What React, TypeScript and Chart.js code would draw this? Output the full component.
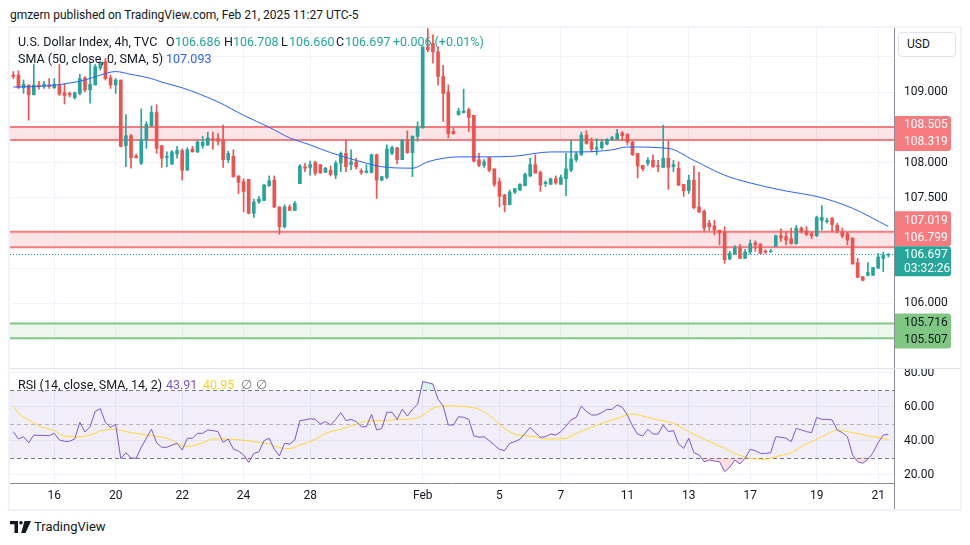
import React, { useEffect, useRef } from 'react';
import { Chart, registerables } from 'chart.js';

Chart.register(...registerables);

const FONT = 'Roboto, "Liberation Sans", Arial, sans-serif';
const TEXT = '#131722';
const UP = '#26a69a';
const DOWN = '#ef5350';
const GRID = '#f0f3fa';
const AXIS_LINE = '#8a8d96';

// ---------- data (4h candles, index 0 .. 171) ----------
const OPEN = [
  109.24, 109.24, 109.06, 109.10, 108.96, 109.10, 109.08, 109.10, 109.06, 109.10,
  108.99, 108.98, 108.92, 108.98, 109.20, 109.03, 109.10, 109.34, 109.43, 109.20,
  109.10, 109.17, 108.24, 108.38, 108.09, 107.99, 108.32, 108.52, 108.71, 108.24,
  108.07, 107.98, 108.12, 108.17, 107.89, 108.19, 108.15, 108.24, 108.25, 108.34,
  108.34, 108.32, 108.04, 108.09, 107.81, 107.73, 107.76, 107.28, 107.44, 107.46,
  107.67, 107.75, 107.37, 107.09, 107.37, 107.32, 107.70, 107.94, 107.93, 108.00,
  107.97, 107.86, 107.89, 107.82, 107.99, 108.13, 107.97, 108.01, 107.88, 107.86,
  107.86, 108.11, 107.75, 107.79, 108.13, 108.21, 108.04, 108.32, 108.14, 108.37,
  108.49, 109.64, 109.69, 109.57, 109.22, 109.00, 108.44, 108.68, 108.71, 108.75,
  108.67, 108.04, 107.96, 108.07, 107.91, 107.73, 107.54, 107.40, 107.58, 107.61,
  107.67, 107.81, 107.97, 107.86, 107.70, 107.69, 107.77, 107.69, 107.77, 107.89,
  108.04, 108.11, 108.39, 108.29, 108.19, 108.21, 108.26, 108.33, 108.33, 108.42,
  108.40, 108.29, 108.13, 107.96, 107.99, 108.03, 107.95, 107.93, 108.06, 107.94,
  107.92, 107.69, 107.60, 107.75, 107.37, 107.31, 107.14, 107.10, 107.04, 107.01,
  106.63, 106.70, 106.79, 106.64, 106.73, 106.86, 106.84, 106.745, 106.73, 106.81,
  106.96, 106.95, 106.92, 106.85, 107.07, 107.03, 106.99, 106.96, 107.18, 107.16,
  107.21, 107.11, 107.01, 106.99, 106.93, 106.58, 106.38, 106.40, 106.40, 106.50,
  106.64, 106.686,
];
const HIGH = [
  109.29, 109.30, 109.17, 109.10, 109.39, 109.15, 109.15, 109.19, 109.19, 109.39,
  109.11, 109.00, 109.00, 109.25, 109.22, 109.42, 109.39, 109.43, 109.48, 109.24,
  109.19, 109.17, 108.68, 108.40, 108.12, 108.76, 108.58, 108.80, 108.82, 108.24,
  108.15, 108.17, 108.23, 108.19, 108.21, 108.23, 108.31, 108.37, 108.43, 108.43,
  108.41, 108.53, 108.16, 108.18, 107.81, 107.77, 107.76, 107.48, 107.52, 107.69,
  107.81, 107.81, 107.37, 107.40, 107.40, 107.45, 107.97, 107.99, 108.02, 108.02,
  107.97, 107.93, 107.95, 108.02, 108.15, 108.32, 108.18, 108.06, 107.91, 107.97,
  108.12, 108.12, 107.80, 108.25, 108.23, 108.21, 108.33, 108.45, 108.38, 108.58,
  109.64, 109.90, 109.81, 109.64, 109.38, 109.10, 108.49, 108.77, 109.04, 108.77,
  108.67, 108.13, 108.04, 108.07, 107.91, 107.78, 107.55, 107.61, 107.63, 107.70,
  107.85, 108.06, 108.11, 107.88, 107.74, 107.78, 107.81, 107.82, 108.13, 108.32,
  108.15, 108.43, 108.45, 108.35, 108.34, 108.33, 108.34, 108.37, 108.47, 108.44,
  108.41, 108.30, 108.13, 107.96, 108.07, 108.11, 108.03, 108.53, 108.30, 108.03,
  108.01, 107.69, 107.82, 107.95, 107.86, 107.33, 107.18, 107.18, 107.04, 107.09,
  106.74, 106.82, 106.84, 106.77, 106.90, 106.89, 106.85, 106.76, 106.77, 106.97,
  107.06, 107.02, 107.07, 107.11, 107.09, 107.09, 107.01, 107.24, 107.39, 107.21,
  107.22, 107.14, 107.07, 107.01, 106.93, 106.64, 106.38, 106.58, 106.51, 106.71,
  106.73, 106.708,
];
const LOW = [
  109.19, 109.05, 108.98, 108.60, 108.96, 109.04, 109.05, 109.05, 109.05, 108.95,
  108.83, 108.93, 108.90, 108.96, 109.00, 108.84, 109.10, 109.31, 109.17, 109.05,
  108.98, 108.22, 107.94, 107.92, 108.06, 107.97, 108.20, 108.51, 108.13, 107.93,
  107.94, 107.97, 108.06, 107.75, 107.89, 108.15, 108.14, 108.20, 108.24, 108.19,
  108.25, 107.93, 108.00, 107.79, 107.56, 107.30, 107.27, 107.22, 107.42, 107.46,
  107.66, 107.36, 106.98, 107.07, 107.32, 107.32, 107.70, 107.87, 107.82, 107.82,
  107.85, 107.86, 107.81, 107.77, 107.87, 107.87, 107.90, 107.91, 107.83, 107.85,
  107.85, 107.49, 107.74, 107.77, 108.11, 107.98, 108.04, 108.13, 107.80, 108.30,
  108.49, 109.57, 109.41, 109.10, 108.58, 108.35, 108.40, 108.67, 108.70, 108.44,
  108.01, 107.94, 107.93, 107.87, 107.66, 107.37, 107.30, 107.40, 107.56, 107.60,
  107.67, 107.80, 107.85, 107.59, 107.66, 107.69, 107.69, 107.69, 107.53, 107.87,
  108.01, 108.10, 108.26, 108.15, 108.11, 108.19, 108.25, 108.31, 108.33, 108.32,
  108.25, 108.10, 107.78, 107.88, 107.96, 107.93, 107.87, 107.93, 107.62, 107.87,
  107.67, 107.52, 107.56, 107.34, 107.29, 107.03, 107.04, 106.97, 106.83, 106.57,
  106.62, 106.70, 106.64, 106.64, 106.70, 106.74, 106.71, 106.71, 106.73, 106.81,
  106.88, 106.83, 106.84, 106.84, 107.00, 106.96, 106.92, 106.95, 107.04, 107.14,
  107.02, 107.00, 106.93, 106.83, 106.56, 106.37, 106.32, 106.39, 106.40, 106.50,
  106.45, 106.660,
];
const CLOSE = [
  109.22, 109.06, 109.11, 108.96, 109.10, 109.08, 109.11, 109.08, 109.11, 108.97,
  108.95, 108.96, 108.99, 109.19, 109.03, 109.11, 109.36, 109.42, 109.19, 109.10,
  109.17, 108.23, 108.38, 108.07, 108.07, 108.33, 108.54, 108.71, 108.20, 108.06,
  108.08, 108.15, 108.17, 107.89, 108.18, 108.15, 108.29, 108.29, 108.35, 108.32,
  108.30, 108.04, 108.13, 107.80, 107.72, 107.59, 107.28, 107.44, 107.48, 107.68,
  107.74, 107.37, 107.09, 107.37, 107.32, 107.42, 107.95, 107.92, 107.97, 107.85,
  107.85, 107.92, 107.83, 107.99, 108.13, 107.94, 108.01, 107.94, 107.86, 107.88,
  108.11, 107.75, 107.80, 108.19, 108.21, 108.04, 108.32, 108.14, 108.37, 108.51,
  109.64, 109.60, 109.57, 109.22, 108.98, 108.41, 108.41, 108.73, 108.73, 108.64,
  108.02, 107.96, 108.01, 107.89, 107.69, 107.52, 107.40, 107.58, 107.63, 107.69,
  107.83, 107.97, 107.85, 107.68, 107.72, 107.77, 107.71, 107.79, 107.91, 108.05,
  108.12, 108.39, 108.27, 108.19, 108.21, 108.29, 108.33, 108.35, 108.41, 108.38,
  108.29, 108.11, 107.95, 107.91, 108.03, 107.94, 107.94, 108.06, 107.93, 107.97,
  107.68, 107.60, 107.75, 107.36, 107.30, 107.07, 107.09, 107.04, 107.00, 106.62,
  106.71, 106.79, 106.64, 106.73, 106.85, 106.83, 106.71, 106.73, 106.74, 106.96,
  106.93, 106.90, 106.85, 107.07, 107.02, 106.98, 106.96, 107.22, 107.22, 107.17,
  107.12, 107.03, 106.96, 106.90, 106.56, 106.37, 106.33, 106.44, 106.51, 106.66,
  106.691, 106.697,
];

// SMA (50) read at candle indices
const SMA_IDX = [0, 7, 14, 17, 20, 23, 27, 29, 33, 40, 45, 50, 54, 58, 62, 69, 72, 78, 81, 84, 87, 92, 98, 105, 111, 117, 120, 128, 133, 139, 144, 150, 158, 164, 171];
const SMA_VAL = [109.07, 109.09, 109.17, 109.24, 109.29, 109.25, 109.19, 109.14, 109.06, 108.86, 108.67, 108.50, 108.35, 108.25, 108.14, 107.99, 107.94, 107.92, 108.01, 108.06, 108.08, 108.08, 108.09, 108.15, 108.15, 108.18, 108.22, 108.20, 108.03, 107.82, 107.71, 107.61, 107.50, 107.35, 107.093];

// RSI (14) per candle
const RSI = [
  45.5, 41.2, 42.5, 39.0, 43.5, 43.3, 43.3, 43.1, 44.5, 40.6,
  39.8, 39.8, 41.2, 51.0, 45.3, 48.4, 57.4, 59.0, 50.8, 48.0,
  49.8, 29.6, 33.1, 30.0, 29.8, 36.3, 41.6, 46.9, 39.0, 36.3,
  36.3, 37.6, 38.6, 34.7, 41.6, 41.6, 44.5, 44.5, 46.5, 46.1,
  45.5, 39.2, 41.2, 35.3, 34.1, 31.8, 27.3, 32.7, 33.7, 40.2,
  41.6, 35.1, 31.2, 38.6, 38.2, 40.6, 52.0, 52.4, 53.1, 52.7,
  50.0, 51.4, 49.4, 52.7, 56.7, 52.0, 52.7, 51.4, 48.4, 48.4,
  55.7, 46.5, 47.4, 56.9, 56.9, 52.7, 58.6, 54.7, 58.6, 61.6,
  74.9, 74.3, 73.5, 64.5, 60.6, 49.4, 49.4, 54.3, 53.9, 52.7,
  43.0, 42.2, 42.5, 40.2, 37.6, 35.1, 34.3, 38.6, 39.6, 41.0,
  44.5, 48.0, 44.9, 42.2, 42.5, 44.1, 43.5, 45.5, 48.8, 52.4,
  53.9, 60.6, 57.3, 55.3, 55.3, 56.7, 58.6, 58.6, 61.2, 59.8,
  55.3, 48.8, 44.1, 42.9, 46.9, 44.1, 44.1, 49.4, 45.5, 46.1,
  38.2, 35.7, 41.6, 33.1, 31.8, 27.8, 28.8, 28.2, 27.8, 22.0,
  24.5, 28.8, 26.5, 29.8, 35.1, 34.3, 32.7, 32.7, 33.1, 42.5,
  42.2, 41.6, 39.6, 47.4, 46.5, 45.5, 44.9, 53.9, 52.7, 52.7,
  52.4, 46.5, 44.9, 42.5, 31.8, 27.8, 26.9, 29.2, 33.1, 39.0,
  43.5, 43.91,
];
// RSI-based MA (SMA 14) read at candle indices
const RSI_MA_IDX = [0, 1, 3, 5, 8, 10, 13, 15, 17, 20, 22, 25, 27, 30, 34, 37, 39, 43, 47, 50, 52, 54, 56, 59, 61, 64, 67, 69, 72, 74, 79, 82, 84, 89, 92, 96, 98, 102, 104, 108, 110, 113, 115, 118, 121, 123, 126, 129, 132, 135, 139, 141, 144, 147, 149, 152, 154, 157, 159, 161, 164, 168, 171];
const RSI_MA_VAL = [60.6, 56.3, 52.4, 48.8, 46.1, 42.9, 42.5, 43.5, 45.9, 46.9, 45.5, 44.1, 43.1, 41.6, 36.7, 39.0, 41.2, 41.0, 39.6, 38.2, 36.1, 35.5, 37.6, 41.0, 44.5, 46.9, 49.8, 51.8, 52.0, 52.4, 53.7, 59.2, 60.6, 60.0, 57.3, 47.4, 44.1, 42.5, 41.2, 41.6, 44.5, 48.0, 50.4, 53.3, 55.9, 54.7, 52.4, 50.4, 45.5, 41.0, 35.7, 32.7, 29.8, 29.2, 30.8, 33.1, 36.7, 41.0, 44.0, 46.5, 44.9, 42.5, 40.95];

// time axis
const DAY_IDX = [8, 20, 33, 45, 58, 80, 95, 107, 120, 132, 144, 157, 169];
const DAY_LABELS = ['16', '20', '22', '24', '28', 'Feb', '5', '7', '11', '13', '17', '19', '21'];

// price axis
const PRICE_TICKS = [105.5, 106, 106.5, 107, 107.5, 108, 108.5, 109, 109.5];
const PRICE_TICKS_SHOWN = [106, 107.5, 108, 109];
const RSI_TICKS = [20, 40, 60, 80];

// levels
const RED_ZONES = [[108.505, 108.319], [107.019, 106.799]];
const GREEN_ZONE = [105.716, 105.507];
const LAST = OPEN.length - 1;
const LAST_PRICE = CLOSE[LAST];
const COUNTDOWN = '03:32:26';

const X_MIN = -0.65;
const X_MAX = 172.1;
const AXIS_W = 66;

const fmt3 = (v: number) => v.toFixed(3);

function roundRect(ctx: CanvasRenderingContext2D, x: number, y: number, w: number, h: number, r: number) {
  ctx.beginPath();
  ctx.moveTo(x, y);
  ctx.lineTo(x + w - r, y);
  ctx.quadraticCurveTo(x + w, y, x + w, y + r);
  ctx.lineTo(x + w, y + h - r);
  ctx.quadraticCurveTo(x + w, y + h, x + w - r, y + h);
  ctx.lineTo(x, y + h);
  ctx.closePath();
}

const pricePlugin = {
  id: 'priceDecor',
  beforeDatasetsDraw(chart: any) {
    const { ctx, chartArea: a, scales } = chart;
    const y = scales.y;
    ctx.save();
    const zone = (top: number, bot: number, fill: string, line: string) => {
      const y1 = y.getPixelForValue(top);
      const y2 = y.getPixelForValue(bot);
      ctx.fillStyle = fill;
      ctx.fillRect(a.left, y1, a.right - a.left, y2 - y1);
      ctx.strokeStyle = line;
      ctx.lineWidth = 2;
      ctx.beginPath();
      ctx.moveTo(a.left, y1);
      ctx.lineTo(a.right, y1);
      ctx.moveTo(a.left, y2);
      ctx.lineTo(a.right, y2);
      ctx.stroke();
    };
    RED_ZONES.forEach((z) => zone(z[0], z[1], 'rgba(242,54,69,0.13)', '#f77c80'));
    zone(GREEN_ZONE[0], GREEN_ZONE[1], 'rgba(76,175,80,0.10)', '#81c784');
    const yl = Math.round(y.getPixelForValue(LAST_PRICE)) + 0.5;
    ctx.setLineDash([1, 2]);
    ctx.strokeStyle = UP;
    ctx.lineWidth = 1;
    ctx.beginPath();
    ctx.moveTo(a.left, yl);
    ctx.lineTo(a.right, yl);
    ctx.stroke();
    ctx.restore();
  },
  afterDraw(chart: any) {
    const { ctx, chartArea: a, scales } = chart;
    const y = scales.y;
    const x0 = a.right + 1;
    const w = 56;
    const tx = a.right + 10;
    ctx.save();
    ctx.font = `12px ${FONT}`;
    ctx.textBaseline = 'middle';
    ctx.textAlign = 'left';
    const box = (top: number, bottom: number, color: string, lines: [string, number][], tc: string) => {
      ctx.fillStyle = color;
      roundRect(ctx, x0, top, w, bottom - top, 3);
      ctx.fill();
      ctx.fillStyle = tc;
      lines.forEach(([t, cy]) => ctx.fillText(t, tx, cy + 0.5));
    };
    const pair = (p1: number, p2: number) => {
      let c1 = y.getPixelForValue(p1);
      let c2 = y.getPixelForValue(p2);
      if (c2 - c1 < 17) {
        const m = (c1 + c2) / 2;
        c1 = m - 8.5;
        c2 = m + 8.5;
      }
      return [c1, c2];
    };
    const [a1, a2] = pair(RED_ZONES[0][0], RED_ZONES[0][1]);
    box(a1 - 9, a2 + 9, '#f77c80', [[fmt3(RED_ZONES[0][0]), a1], [fmt3(RED_ZONES[0][1]), a2]], '#ffffff');
    const cp = y.getPixelForValue(LAST_PRICE);
    const b2 = Math.min(y.getPixelForValue(RED_ZONES[1][1]), cp - 17);
    const b1 = Math.min(y.getPixelForValue(RED_ZONES[1][0]), b2 - 17);
    box(b1 - 9, b2 + 9, '#f77c80', [[fmt3(RED_ZONES[1][0]), b1], [fmt3(RED_ZONES[1][1]), b2]], '#ffffff');
    box(cp - 8, cp + 22, UP, [[fmt3(LAST_PRICE), cp], [COUNTDOWN, cp + 14]], '#ffffff');
    const [g1, g2] = pair(GREEN_ZONE[0], GREEN_ZONE[1]);
    box(g1 - 9, g2 + 9, '#81c784', [[fmt3(GREEN_ZONE[0]), g1], [fmt3(GREEN_ZONE[1]), g2]], TEXT);
    ctx.restore();
  },
};

const rsiPlugin = {
  id: 'rsiDecor',
  beforeDatasetsDraw(chart: any) {
    const { ctx, chartArea: a, scales } = chart;
    const y = scales.y;
    const y70 = Math.round(y.getPixelForValue(70)) + 0.5;
    const y50 = Math.round(y.getPixelForValue(50)) + 0.5;
    const y30 = Math.round(y.getPixelForValue(30)) + 0.5;
    ctx.save();
    ctx.fillStyle = 'rgba(126,87,194,0.1)';
    ctx.fillRect(a.left, y70, a.right - a.left, y30 - y70);
    ctx.lineWidth = 1;
    ctx.setLineDash([4, 3]);
    ctx.strokeStyle = '#787b86';
    ctx.beginPath();
    ctx.moveTo(a.left, y70);
    ctx.lineTo(a.right, y70);
    ctx.moveTo(a.left, y30);
    ctx.lineTo(a.right, y30);
    ctx.stroke();
    ctx.strokeStyle = 'rgba(120,123,134,0.5)';
    ctx.beginPath();
    ctx.moveTo(a.left, y50);
    ctx.lineTo(a.right, y50);
    ctx.stroke();
    ctx.restore();
  },
};

const zeroPad = (s: any) => {
  s.paddingTop = 0;
  s.paddingBottom = 0;
  s.paddingLeft = 0;
  s.paddingRight = 0;
};

function T(props: { x: number; y: number; c?: string; s?: number; w?: number; children: any }) {
  return (
    <div
      style={{
        position: 'absolute',
        left: props.x,
        top: props.y - 8,
        color: props.c || TEXT,
        fontSize: props.s || 12.5,
        fontWeight: props.w || 400,
        lineHeight: '16px',
        whiteSpace: 'nowrap',
        fontFamily: FONT,
      }}
    >
      {props.children}
    </div>
  );
}

export default function App() {
  const priceRef = useRef<HTMLCanvasElement>(null);
  const rsiRef = useRef<HTMLCanvasElement>(null);

  useEffect(() => {
    const idx = OPEN.map((_, i) => i);
    const colors = idx.map((i) => (CLOSE[i] >= OPEN[i] ? UP : DOWN));

    const price = new Chart(priceRef.current as HTMLCanvasElement, {
      type: 'bar',
      data: {
        datasets: [
          {
            type: 'bar',
            label: 'wick',
            data: idx.map((i) => ({ x: i, y: [LOW[i], HIGH[i]] })) as any,
            backgroundColor: colors,
            barThickness: 1,
            grouped: false,
            minBarLength: 1,
            order: 3,
          } as any,
          {
            type: 'bar',
            label: 'body',
            data: idx.map((i) => ({ x: i, y: [OPEN[i], CLOSE[i]] })) as any,
            backgroundColor: colors,
            barThickness: 3,
            grouped: false,
            minBarLength: 1,
            order: 2,
          } as any,
          {
            type: 'line',
            label: 'SMA',
            data: SMA_IDX.map((x, k) => ({ x, y: SMA_VAL[k] })) as any,
            borderColor: '#2962ff',
            borderWidth: 1,
            pointRadius: 0,
            tension: 0.4,
            cubicInterpolationMode: 'monotone',
            order: 1,
          } as any,
        ],
      },
      options: {
        animation: false,
        responsive: false,
        events: [],
        layout: { padding: 0 },
        plugins: { legend: { display: false }, tooltip: { enabled: false } },
        scales: {
          x: {
            type: 'linear',
            min: X_MIN,
            max: X_MAX,
            offset: false,
            afterBuildTicks: (s: any) => {
              s.ticks = DAY_IDX.map((v) => ({ value: v }));
            },
            ticks: { display: false },
            grid: { color: GRID, drawTicks: false, offset: false },
            border: { display: false },
            afterFit: (s: any) => {
              s.height = 0;
              zeroPad(s);
            },
          },
          y: {
            type: 'linear',
            position: 'right',
            min: 105.085,
            max: 109.908,
            afterBuildTicks: (s: any) => {
              s.ticks = PRICE_TICKS.map((v) => ({ value: v }));
            },
            ticks: {
              autoSkip: false,
              padding: 10,
              color: TEXT,
              font: { family: FONT, size: 12 },
              callback: (v: any) => (PRICE_TICKS_SHOWN.includes(v) ? Number(v).toFixed(3) : ''),
            },
            grid: { color: GRID, drawTicks: false },
            border: { display: true, color: AXIS_LINE },
            afterFit: (s: any) => {
              s.width = AXIS_W;
              zeroPad(s);
            },
          },
        },
      } as any,
      plugins: [pricePlugin],
    });

    const rsi = new Chart(rsiRef.current as HTMLCanvasElement, {
      type: 'line',
      data: {
        datasets: [
          {
            label: 'RSI',
            data: idx.map((i) => ({ x: i, y: RSI[i] })) as any,
            borderColor: '#7e57c2',
            borderWidth: 1,
            pointRadius: 0,
            tension: 0,
            fill: { target: { value: 30 }, above: 'rgba(0,0,0,0)', below: 'rgba(242,54,69,0.16)' },
            order: 1,
          } as any,
          {
            label: 'RSI-ob',
            data: idx.map((i) => ({ x: i, y: RSI[i] })) as any,
            borderWidth: 0,
            borderColor: 'rgba(0,0,0,0)',
            pointRadius: 0,
            tension: 0,
            fill: { target: { value: 70 }, above: 'rgba(38,166,154,0.16)', below: 'rgba(0,0,0,0)' },
            order: 3,
          } as any,
          {
            label: 'RSI MA',
            data: RSI_MA_IDX.map((x, k) => ({ x, y: RSI_MA_VAL[k] })) as any,
            borderColor: '#fdd835',
            borderWidth: 1,
            pointRadius: 0,
            tension: 0.4,
            cubicInterpolationMode: 'monotone',
            order: 2,
          } as any,
        ],
      },
      options: {
        animation: false,
        responsive: false,
        events: [],
        layout: { padding: 0 },
        plugins: { legend: { display: false }, tooltip: { enabled: false } },
        scales: {
          x: {
            type: 'linear',
            min: X_MIN,
            max: X_MAX,
            afterBuildTicks: (s: any) => {
              s.ticks = DAY_IDX.map((v) => ({ value: v }));
            },
            ticks: {
              autoSkip: false,
              maxRotation: 0,
              padding: 6,
              color: TEXT,
              font: { family: FONT, size: 12 },
              callback: (v: any) => {
                const k = DAY_IDX.indexOf(v);
                return k >= 0 ? DAY_LABELS[k] : '';
              },
            },
            grid: { color: GRID, drawTicks: false },
            border: { display: true, color: AXIS_LINE },
            afterFit: (s: any) => {
              s.height = 26;
              zeroPad(s);
            },
          },
          y: {
            type: 'linear',
            position: 'right',
            min: 15.29,
            max: 82.35,
            afterBuildTicks: (s: any) => {
              s.ticks = RSI_TICKS.map((v) => ({ value: v }));
            },
            ticks: {
              autoSkip: false,
              padding: 10,
              color: TEXT,
              font: { family: FONT, size: 12 },
              callback: (v: any) => Number(v).toFixed(2),
            },
            grid: { color: GRID, drawTicks: false },
            border: { display: true, color: AXIS_LINE },
            afterFit: (s: any) => {
              s.width = AXIS_W;
              zeroPad(s);
            },
          },
        },
      } as any,
      plugins: [rsiPlugin],
    });

    return () => {
      price.destroy();
      rsi.destroy();
    };
  }, []);

  const change = CLOSE[LAST] - CLOSE[LAST - 1];
  const pct = (change / CLOSE[LAST - 1]) * 100;
  const sign = change >= 0 ? '+' : '';

  return (
    <div
      style={{
        position: 'absolute',
        left: 0,
        top: 0,
        width: 970,
        height: 545,
        background: '#ffffff',
        overflow: 'hidden',
        fontFamily: FONT,
      }}
    >
      <T x={10} y={15} s={12}>gmzern published on TradingView.com, Feb 21, 2025 11:27 UTC-5</T>

      <div
        style={{
          position: 'absolute',
          left: 8,
          top: 26,
          width: 954,
          height: 485,
          border: '2px solid #f0f3fa',
          boxSizing: 'border-box',
        }}
      />

      <canvas
        ref={priceRef}
        width={950}
        height={340}
        style={{ position: 'absolute', left: 10, top: 28, width: 950, height: 340 }}
      />
      <div style={{ position: 'absolute', left: 10, top: 368, width: 950, height: 1, background: '#e0e3eb' }} />
      <canvas
        ref={rsiRef}
        width={950}
        height={140}
        style={{ position: 'absolute', left: 10, top: 369, width: 950, height: 140 }}
      />
      <div style={{ position: 'absolute', left: 894, top: 483, width: 1, height: 26, background: AXIS_LINE }} />

      {/* USD box */}
      <div
        style={{
          position: 'absolute',
          left: 898,
          top: 32,
          width: 58,
          height: 25,
          boxSizing: 'border-box',
          border: '1px solid #e0e3eb',
          borderRadius: 4,
          background: '#ffffff',
          color: TEXT,
          fontSize: 12,
          lineHeight: '23px',
          paddingLeft: 8,
          fontFamily: FONT,
        }}
      >
        USD
      </div>

      {/* price legend */}
      <T x={18} y={42}>U.S. Dollar Index, 4h, TVC</T>
      <T x={166} y={42}>O</T>
      <T x={175} y={42} c={UP}>{fmt3(OPEN[LAST])}</T>
      <T x={224} y={42}>H</T>
      <T x={233} y={42} c={UP}>{fmt3(HIGH[LAST])}</T>
      <T x={281} y={42}>L</T>
      <T x={289} y={42} c={UP}>{fmt3(LOW[LAST])}</T>
      <T x={336} y={42}>C</T>
      <T x={345} y={42} c={UP}>{fmt3(CLOSE[LAST])}</T>
      <T x={393} y={42} c={UP}>{`${sign}${change.toFixed(3)} (${sign}${pct.toFixed(2)}%)`}</T>

      <T x={18} y={59}>SMA (50, close, 0, SMA, 5)</T>
      <T x={166} y={59} c="#2962ff">{fmt3(SMA_VAL[SMA_VAL.length - 1])}</T>

      {/* RSI legend */}
      <T x={18} y={385}>RSI (14, close, SMA, 14, 2)</T>
      <T x={166} y={385} c="#7e57c2">{RSI[LAST].toFixed(2)}</T>
      <T x={203} y={385} c="#f9d423">{RSI_MA_VAL[RSI_MA_VAL.length - 1].toFixed(2)}</T>
      <T x={241} y={385} c="#787b86">∅</T>
      <T x={256} y={385} c="#787b86">∅</T>

      {/* footer logo */}
      <svg
        width={21}
        height={12}
        viewBox="0 0 21 12"
        style={{ position: 'absolute', left: 10, top: 521 }}
      >
        <path d="M0 0 H8 V12 H4.5 V3.2 H0 Z" fill={TEXT} />
        <circle cx={11} cy={1.8} r={1.8} fill={TEXT} />
        <path d="M14.5 0 H21 L15.5 12 H11.2 Z" fill={TEXT} />
      </svg>
      <T x={34} y={527} s={13}>TradingView</T>
    </div>
  );
}
